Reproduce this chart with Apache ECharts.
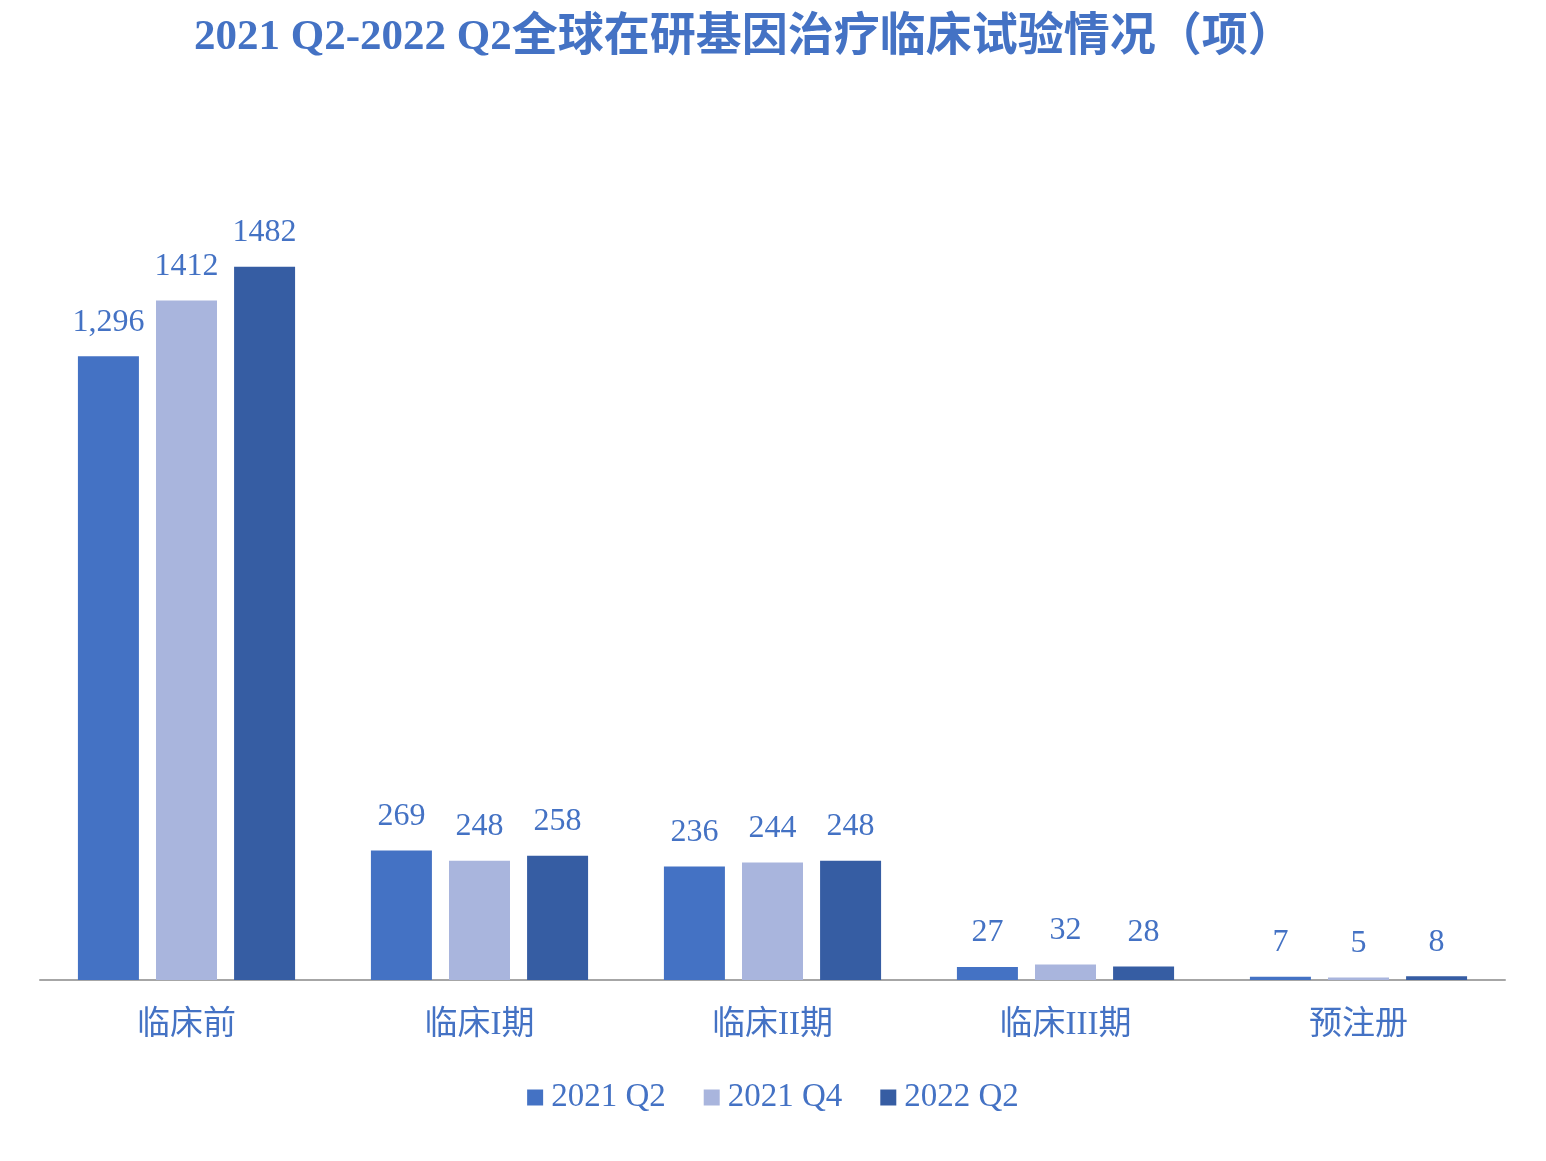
<!DOCTYPE html>
<html>
<head>
<meta charset="utf-8">
<script src="https://cdn.jsdelivr.net/npm/echarts@6/dist/echarts.min.js"></script>
<style>
  html, body { margin: 0; padding: 0; background: #fff; }
  #main { width: 1546px; height: 1161px; }
</style>
</head>
<body>
<div id="main"></div>
<script>
// 分类与数据
var categories = ['临床前', '临床I期', '临床II期', '临床III期', '预注册'];
var seriesNames = ['2021 Q2', '2021 Q4', '2022 Q2'];
var q2021Q2 = [1296, 269, 236, 27, 7];
var q2021Q4 = [1412, 248, 244, 32, 5];
var q2022Q2 = [1482, 258, 248, 28, 8];
// 标签文字（原图第一个值带千分位）
var labels2021Q2 = ['1,296', '269', '236', '27', '7'];
var labels2021Q4 = ['1412', '248', '244', '32', '5'];
var labels2022Q2 = ['1482', '258', '248', '28', '8'];

var colors = ['#4472C4', '#A9B5DD', '#365DA3'];
var fontFam = '"Liberation Serif", "Noto Sans CJK SC", serif';
var textColor = '#4472C4';

var chart = echarts.init(document.getElementById('main'));

function makeSeries(name, data, labels, color) {
  return {
    name: name,
    type: 'bar',
    data: data,
    barWidth: 61,
    barGap: '28%',
    itemStyle: { color: color },
    label: {
      show: true,
      position: 'top',
      distance: 18,
      color: textColor,
      fontFamily: fontFam,
      fontSize: 32,
      formatter: function (p) { return labels[p.dataIndex]; }
    }
  };
}

var option = {
  backgroundColor: '#fff',
  title: {
    // 英文部分和中文部分字号略有不同
    text: '{a|2021 Q2-2022 Q2}{b|全球在研基因治疗临床试验情况（项）}',
    left: 189,
    top: 10,
    textStyle: {
      color: textColor,
      fontFamily: fontFam,
      fontWeight: 'bold',
      fontSize: 43,
      rich: {
        a: { color: textColor, fontFamily: fontFam, fontWeight: 'bold', fontSize: 43 },
        b: { color: textColor, fontFamily: fontFam, fontWeight: 'bold', fontSize: 46 }
      }
    }
  },
  legend: {
    data: seriesNames,
    bottom: 42,
    left: 'center',
    itemWidth: 16,
    itemHeight: 16,
    itemGap: 38,
    icon: 'rect',
    textStyle: {
      color: textColor,
      fontFamily: fontFam,
      fontSize: 33,
      padding: [0, 0, 0, 3]
    }
  },
  grid: {
    left: 40,
    right: 41,
    top: 210,
    bottom: 181,
    containLabel: false
  },
  xAxis: {
    type: 'category',
    data: categories,
    axisLine: { lineStyle: { color: '#A6A6A6', width: 2 } },
    axisTick: { show: false },
    axisLabel: {
      color: textColor,
      fontFamily: fontFam,
      fontSize: 33,
      margin: 29
    }
  },
  yAxis: {
    type: 'value',
    min: 0,
    max: 1600,
    show: false,
    splitLine: { show: false }
  },
  series: [
    makeSeries(seriesNames[0], q2021Q2, labels2021Q2, colors[0]),
    makeSeries(seriesNames[1], q2021Q4, labels2021Q4, colors[1]),
    makeSeries(seriesNames[2], q2022Q2, labels2022Q2, colors[2])
  ]
};

chart.setOption(option);
</script>
</body>
</html>
